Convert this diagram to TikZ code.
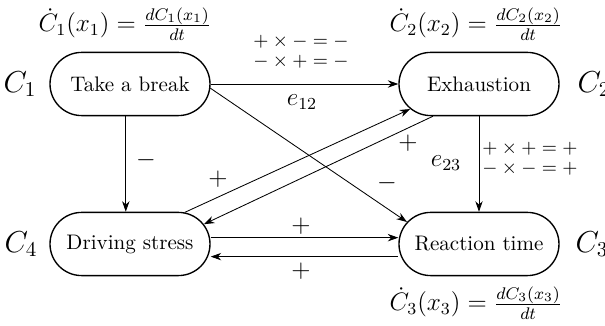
\documentclass[tikz,border=0pt]{standalone}
\usetikzlibrary{shapes.misc,arrows.meta}
\begin{document}
\begin{tikzpicture}[x=0.475pt, y=-0.475pt, >={Stealth[length=5pt,width=3.5pt]}, thin,
	concept/.style={rounded rectangle, draw, line width=0.65pt, minimum width=76pt, minimum height=30pt, inner sep=0pt},
	sign/.style={font=\large},
	rule/.style={align=left, font=\small, inner sep=0pt}]
	\useasboundingbox (0,0) rectangle (605,326);
	% 1. 四个概念节点
	\node[concept] (brk) at (130,84) {Take a break};
	\node[concept] (exh) at (479,84) {Exhaustion};
	\node[concept] (drv) at (130,244) {Driving stress};
	\node[concept] (rea) at (479,244) {Reaction time};
	
	% 2. 节点标号与导数公式
	\node[font=\Large] (c1) at (20,84) {$C_1$};
	\node[font=\Large] (c2) at (594,84) {$C_2$};
	\node[font=\Large] (c3) at (592,244) {$C_3$};
	\node[font=\Large] (c4) at (21,244) {$C_4$};
	\node[font=\large] (d1) at (125,24) {$\dot{C}_1(x_1) = \frac{dC_1(x_1)}{dt}$};
	\node[font=\large] (d2) at (476,24) {$\dot{C}_2(x_2) = \frac{dC_2(x_2)}{dt}$};
	\node[font=\large] (d3) at (476,303) {$\dot{C}_3(x_3) = \frac{dC_3(x_3)}{dt}$};
	
	% 3. 因果连线
	\draw[->] (brk.east) -- (exh.west);
	\draw[->] (brk.-3) -- (rea.163);
	\draw[->] ([xshift=-2]brk.south) -- ([xshift=-2]drv.north);
	\draw[->] (drv.30) -- (exh.200);
	\draw[->] (exh.215) -- (drv.15);
	\draw[->] (exh.south) -- (rea.north);
	\draw[->] ([yshift=3]drv.east) -- ([yshift=3]rea.west);
	\draw[<-] ([yshift=-6]drv.east) -- ([yshift=-6]rea.west);
	
	% 4. 符号与规则标注
	\node[rule] (r12) at (301,52) {$+\times-=-$\\[-1.5pt]$-\times+=-$};
	\node[font=\large] (e12) at (302,102) {$e_{12}$};
	\node[rule] (r23) at (530,159) {$+\times+=+$\\[-1.5pt]$-\times-=+$};
	\node[font=\large] (e23) at (446,163) {$e_{23}$};
	\node[sign] (s14) at (146,160) {$-$};
	\node[sign] (s42) at (218,179) {$+$};
	\node[sign] (s24) at (408,143) {$+$};
	\node[sign] (s13) at (387,183) {$-$};
	\node[sign] (s43) at (301,226) {$+$};
	\node[sign] (s34) at (301,271) {$+$};
\end{tikzpicture}
\end{document}
